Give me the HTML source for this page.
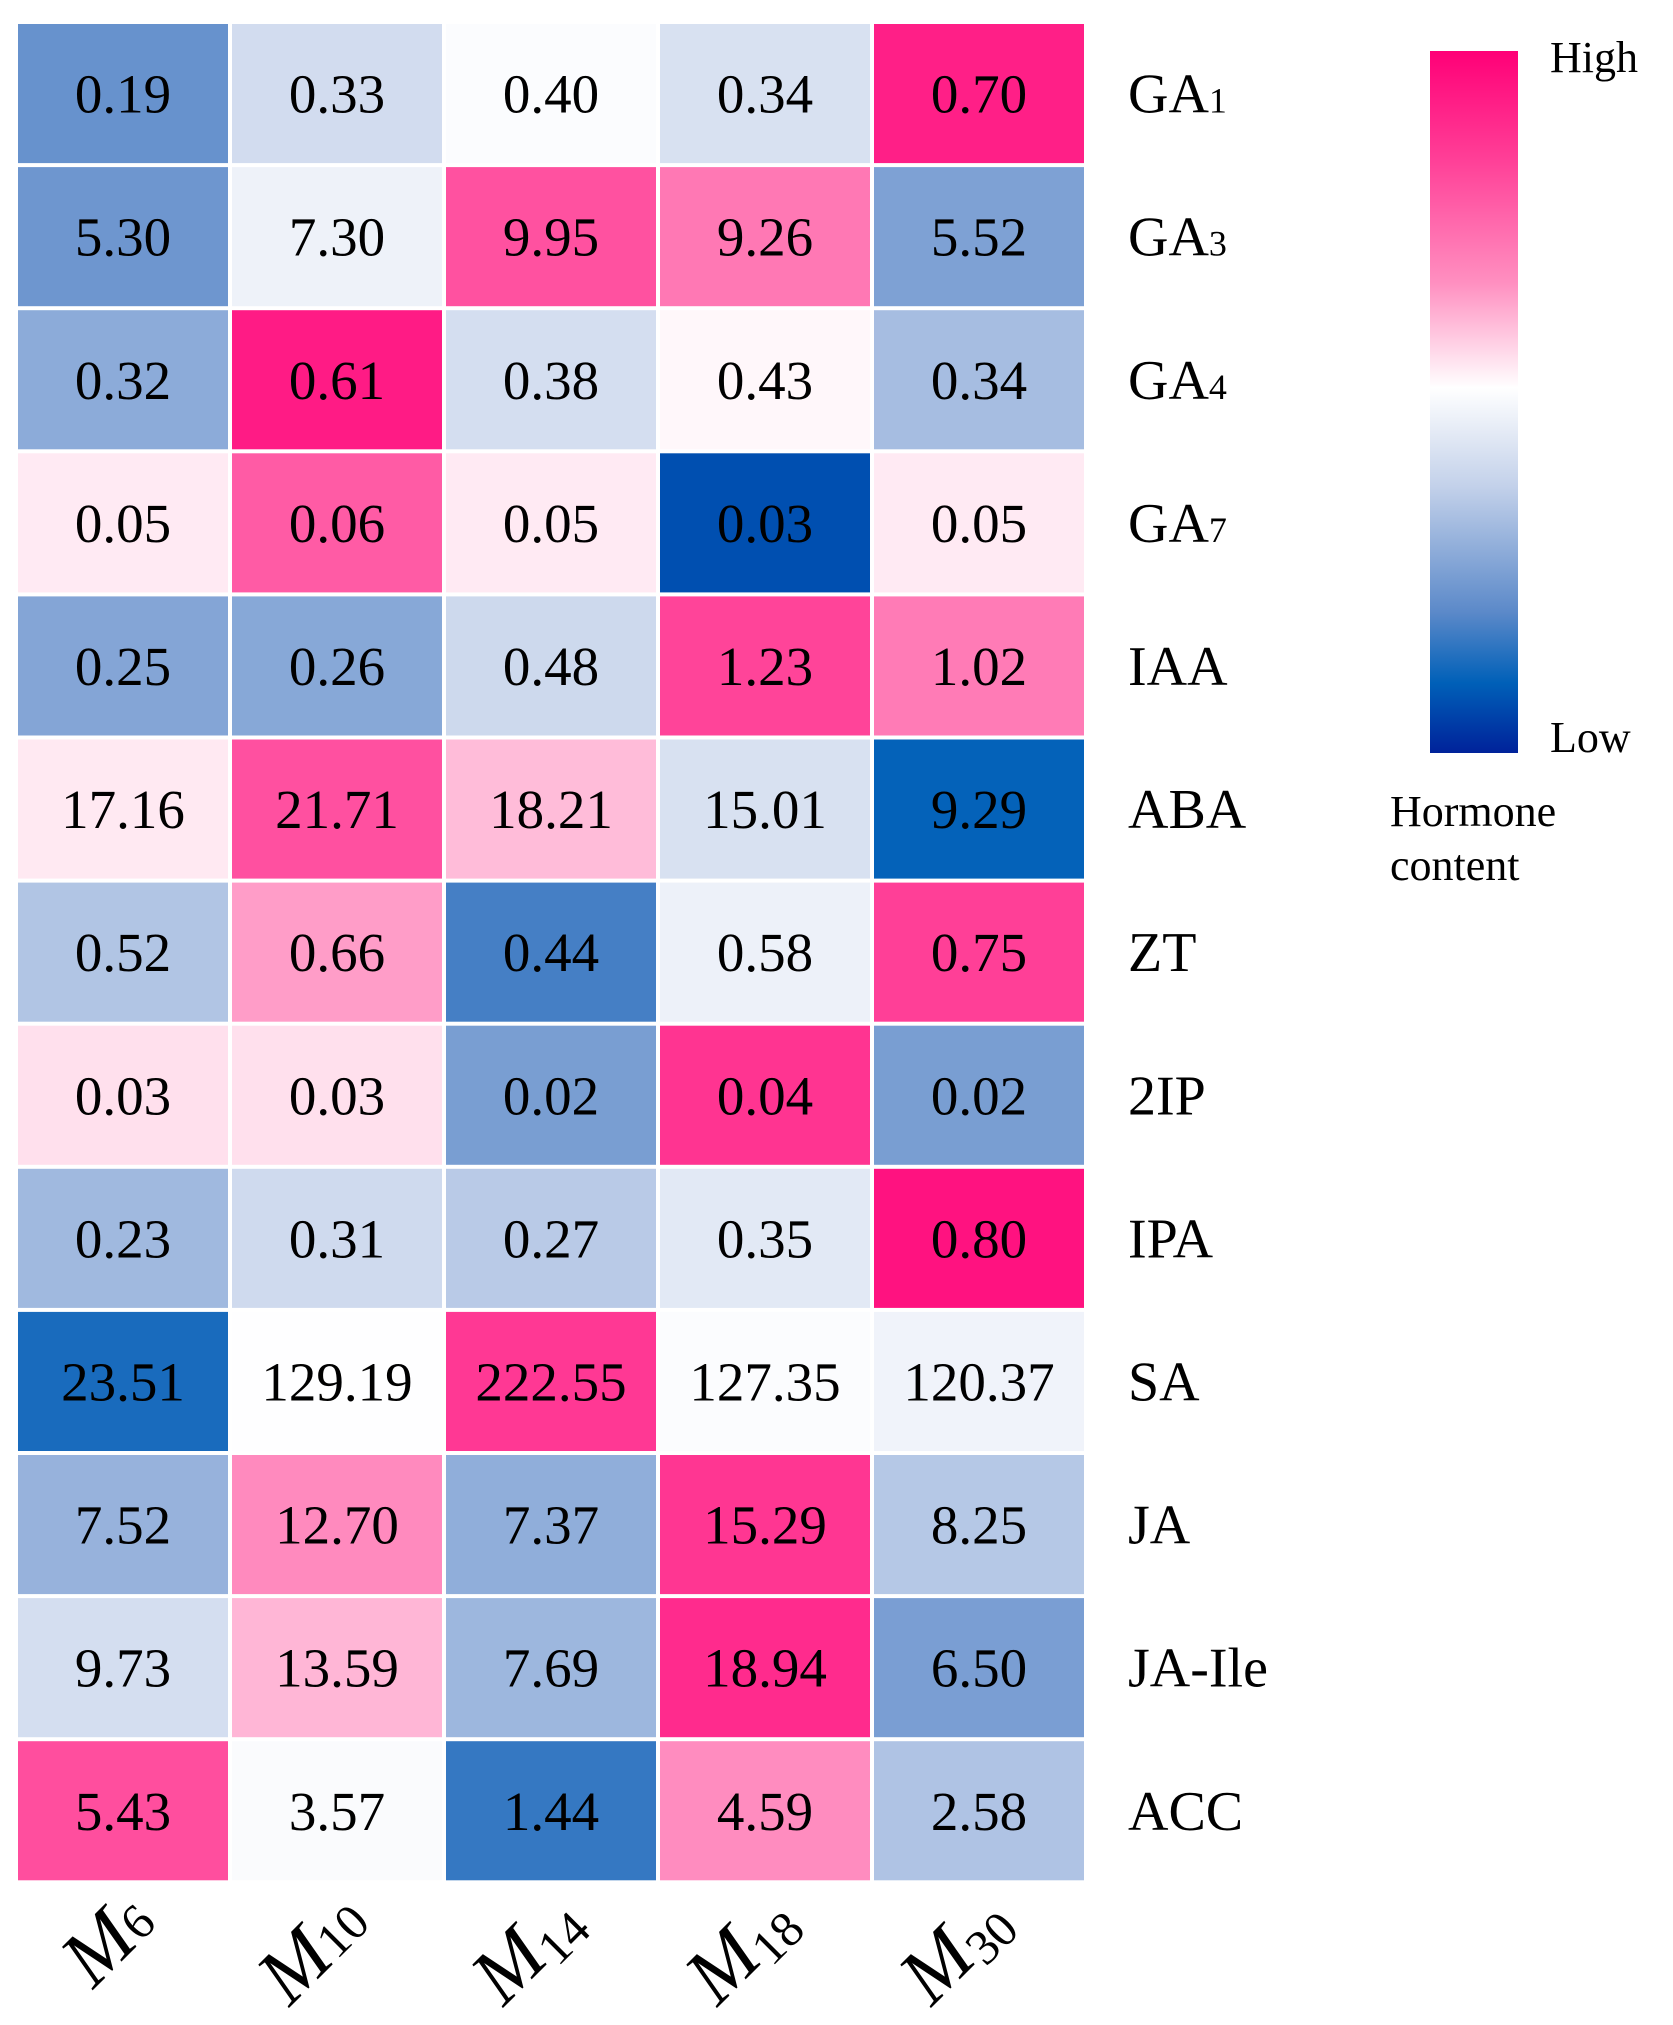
<!DOCTYPE html>
<html><head><meta charset="utf-8"><style>
html,body{margin:0;padding:0;background:#fff;}
svg{display:block;font-family:"Liberation Serif","Times New Roman",serif;}
</style></head><body>
<svg id="chart" width="1673" height="2025" viewBox="0 0 1673 2025" xmlns="http://www.w3.org/2000/svg">
<defs>
<linearGradient id="cbar" x1="0" y1="0" x2="0" y2="1">
<stop offset="0" stop-color="#ff0077"/>
<stop offset="0.15" stop-color="#ff3d96"/>
<stop offset="0.33" stop-color="#ff8fc0"/>
<stop offset="0.48" stop-color="#ffffff"/>
<stop offset="0.62" stop-color="#c3d1ea"/>
<stop offset="0.8" stop-color="#5b89c9"/>
<stop offset="0.9" stop-color="#0060b8"/>
<stop offset="1" stop-color="#00229a"/>
</linearGradient>
</defs>
<g id="cells"></g>
<g id="rowlabels"></g>
<g id="collabels"></g>
<g>
<rect x="1430" y="51" width="88" height="702" fill="url(#cbar)"/>
<text x="1550" y="72" font-size="44">High</text>
<text x="1550" y="752" font-size="44">Low</text>
<text x="1390" y="826" font-size="44">Hormone</text>
<text x="1390" y="880" font-size="44">content</text>
</g>
</svg>
<script>
const rowNames = ["GA","GA","GA","GA","IAA","ABA","ZT","2IP","IPA","SA","JA","JA-Ile","ACC"];
const rowSubs = ["1","3","4","7","","","","","","","","",""];
const colNames = ["M","M","M","M","M"];
const colSubs = ["6","10","14","18","30"];
const rowGA1 = [0.19,0.33,0.40,0.34,0.70];
const rowGA3 = [5.30,7.30,9.95,9.26,5.52];
const rowGA4 = [0.32,0.61,0.38,0.43,0.34];
const rowGA7 = [0.05,0.06,0.05,0.03,0.05];
const rowIAA = [0.25,0.26,0.48,1.23,1.02];
const rowABA = [17.16,21.71,18.21,15.01,9.29];
const rowZT = [0.52,0.66,0.44,0.58,0.75];
const row2IP = [0.03,0.03,0.02,0.04,0.02];
const rowIPA = [0.23,0.31,0.27,0.35,0.80];
const rowSA = [23.51,129.19,222.55,127.35,120.37];
const rowJA = [7.52,12.70,7.37,15.29,8.25];
const rowJAIle = [9.73,13.59,7.69,18.94,6.50];
const rowACC = [5.43,3.57,1.44,4.59,2.58];
const values = [rowGA1,rowGA3,rowGA4,rowGA7,rowIAA,rowABA,rowZT,row2IP,rowIPA,rowSA,rowJA,rowJAIle,rowACC];

const NS="http://www.w3.org/2000/svg";
const x0=18, y0=24, pw=214, ph=143.1, gap=4;
const xPos=i=>x0+i*pw;
const yPos=j=>y0+j*ph;
const stops=[[0,[255,0,119]],[0.15,[255,61,150]],[0.33,[255,143,192]],[0.48,[255,255,255]],[0.62,[195,209,234]],[0.8,[91,137,201]],[0.9,[0,96,184]],[1,[0,34,154]]];
function cmap(t){
  t=Math.max(0,Math.min(1,t));
  for(let k=1;k<stops.length;k++){
    if(t<=stops[k][0]){
      const a=stops[k-1],b=stops[k],f=(t-a[0])/(b[0]-a[0]);
      const c=a[1].map((v,i)=>Math.round(v+(b[1][i]-v)*f));
      return `rgb(${c[0]},${c[1]},${c[2]})`;
    }
  }
  return "rgb(0,34,154)";
}
function fmt(v){return v.toFixed(2);}
const cells=document.getElementById('cells');
values.forEach((row,j)=>{
  const m=row.reduce((a,b)=>a+b,0)/row.length;
  const sd=Math.sqrt(row.reduce((a,b)=>a+(b-m)*(b-m),0)/row.length)||1;
  row.forEach((v,i)=>{
    const z=(v-m)/sd;
    const r=document.createElementNS(NS,'rect');
    
    
    r.setAttribute('x',xPos(i));r.setAttribute('y',yPos(j));
    r.setAttribute('width',pw-gap);r.setAttribute('height',ph-gap);
    r.setAttribute('fill',cmap(0.5-z/4.3));
    cells.appendChild(r);
    const t=document.createElementNS(NS,'text');
    
    
    t.setAttribute('x',xPos(i)+(pw-gap)/2);t.setAttribute('y',yPos(j)+(ph-gap)/2+19);
    t.setAttribute('text-anchor','middle');t.setAttribute('font-size','55');
    t.textContent=fmt(v);
    cells.appendChild(t);
  });
});
const rl=document.getElementById('rowlabels');
rowNames.forEach((n,j)=>{
  const t=document.createElementNS(NS,'text');
  
  
  t.setAttribute('x',1128);t.setAttribute('y',yPos(j)+(ph-gap)/2+19);
  t.setAttribute('font-size','56');
  t.textContent=n;
  if(rowSubs[j]){const s=document.createElementNS(NS,'tspan');s.setAttribute('font-size','36');s.textContent=rowSubs[j];t.appendChild(s);}
  rl.appendChild(t);
});
const cl=document.getElementById('collabels');
colNames.forEach((n,i)=>{
  const cx=xPos(i)+(pw-gap)/2+35, cy=1925;
  const t=document.createElementNS(NS,'text');
  
  
  t.setAttribute('x',cx);t.setAttribute('y',cy);
  t.setAttribute('text-anchor','end');t.setAttribute('font-size','80');
  t.setAttribute('font-style','italic');
  t.setAttribute('transform',`rotate(-45 ${cx} ${cy})`);
  t.textContent=n;
  const s=document.createElementNS(NS,'tspan');s.setAttribute('font-size','50');s.setAttribute('font-style','normal');
  if(i>=2){s.setAttribute('dy','10');}
  s.textContent=colSubs[i];t.appendChild(s);
  cl.appendChild(t);
});
</script>
</body></html>
